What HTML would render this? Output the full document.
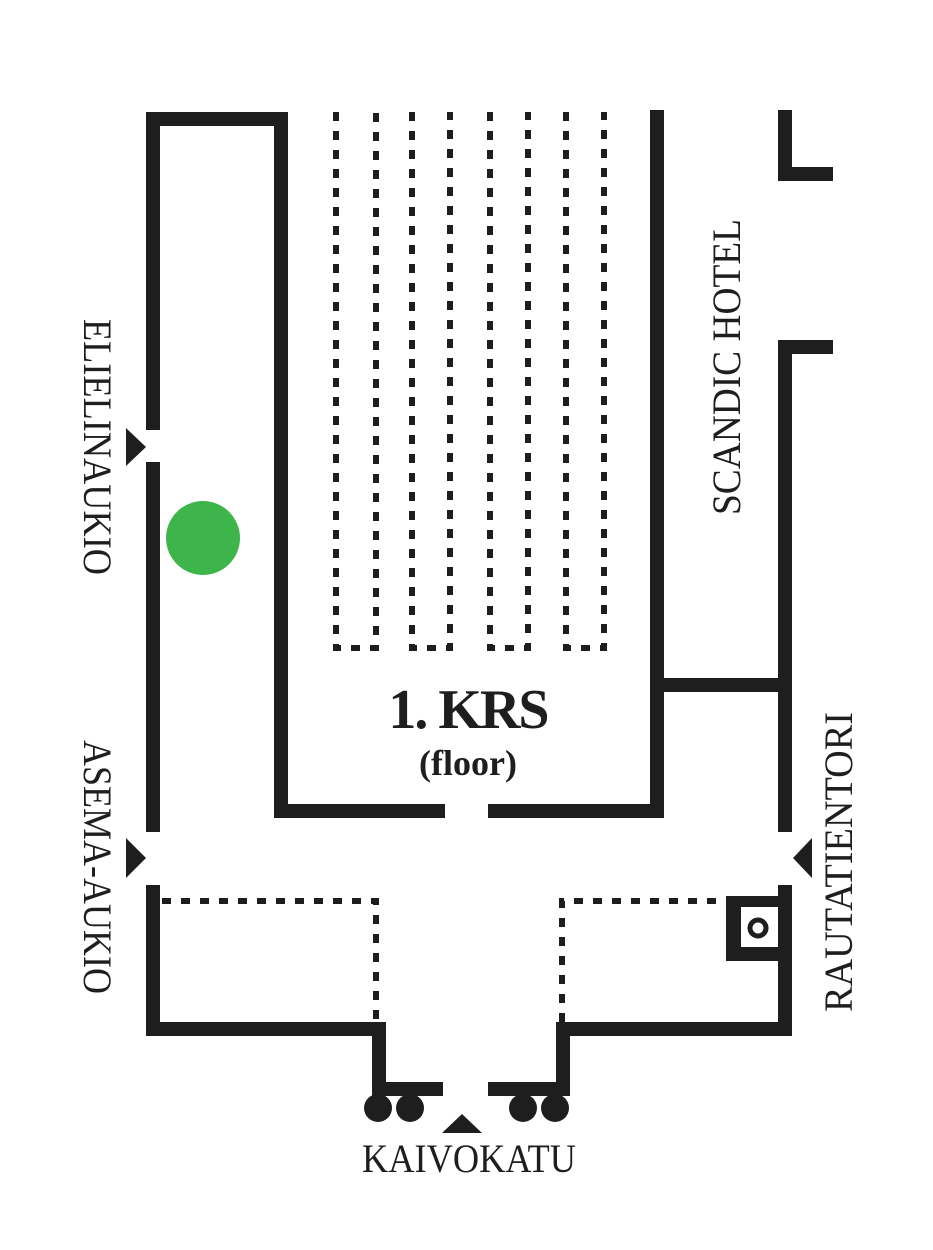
<!DOCTYPE html>
<html><head><style>body{margin:0;background:#fff}svg{display:block}</style></head><body>
<svg width="933" height="1250" viewBox="0 0 933 1250" xmlns="http://www.w3.org/2000/svg">
<g fill="none" stroke="#1e1e1e" stroke-width="14" stroke-linecap="butt" stroke-linejoin="miter">
<polyline points="153,430 153,119 281,119 281,811 445,811"/>
<polyline points="488,811 657,811 657,110"/>
<line x1="153" y1="462" x2="153" y2="832"/>
<polyline points="153,885 153,1029 379,1029 379,1089 443,1089"/>
<polyline points="488,1089 563,1089 563,1029 785,1029 785,885"/>
<polyline points="785,832 785,347 833,347"/>
<polyline points="785,110 785,174 833,174"/>
<line x1="657" y1="685" x2="785" y2="685"/>
</g>
<g fill="none" stroke="#1e1e1e" stroke-width="6" stroke-dasharray="9,10">
<polyline points="336,112 336,648 376,648 376,112"/>
<polyline points="412,112 412,648 450,648 450,112"/>
<polyline points="490,112 490,648 528,648 528,112"/>
<polyline points="566,112 566,648 604,648 604,112"/>
<polyline points="162,901 376,901 376,1022"/>
<polyline points="562,1022 562,901 728,901"/>
</g>
<rect x="726" y="896" width="56" height="65" fill="#1e1e1e"/>
<rect x="741" y="907" width="37" height="40" fill="#fff"/>
<circle cx="758" cy="928" r="8" fill="none" stroke="#1e1e1e" stroke-width="5"/>
<circle cx="203" cy="538" r="37" fill="#3db54a"/>
<g fill="#1e1e1e">
<polygon points="126,428 146,447 126,466"/>
<polygon points="126,838 146,858 126,878"/>
<polygon points="812,838 793,858 812,878"/>
<polygon points="442,1133 462,1114 482,1133"/>
<circle cx="378" cy="1108" r="14"/><circle cx="410" cy="1108" r="14"/>
<circle cx="523" cy="1108" r="14"/><circle cx="555" cy="1108" r="14"/>
</g>
<g font-family="Liberation Serif, serif" fill="#1e1e1e">
<text x="468" y="728" font-size="56" font-weight="bold" text-anchor="middle" letter-spacing="-2">1. KRS</text>
<text x="468" y="775" font-size="36" font-weight="bold" text-anchor="middle">(floor)</text>
<text x="362" y="1172" font-size="40" textLength="214" lengthAdjust="spacingAndGlyphs">KAIVOKATU</text>
<text transform="translate(84,319) rotate(90)" font-size="40" textLength="256" lengthAdjust="spacingAndGlyphs">ELIELINAUKIO</text>
<text transform="translate(84,740) rotate(90)" font-size="40" textLength="254" lengthAdjust="spacingAndGlyphs">ASEMA-AUKIO</text>
<text transform="translate(740,515) rotate(-90)" font-size="40" textLength="296" lengthAdjust="spacingAndGlyphs">SCANDIC HOTEL</text>
<text transform="translate(852,1012) rotate(-90)" font-size="40" textLength="300" lengthAdjust="spacingAndGlyphs">RAUTATIENTORI</text>
</g>
</svg>
</body></html>
